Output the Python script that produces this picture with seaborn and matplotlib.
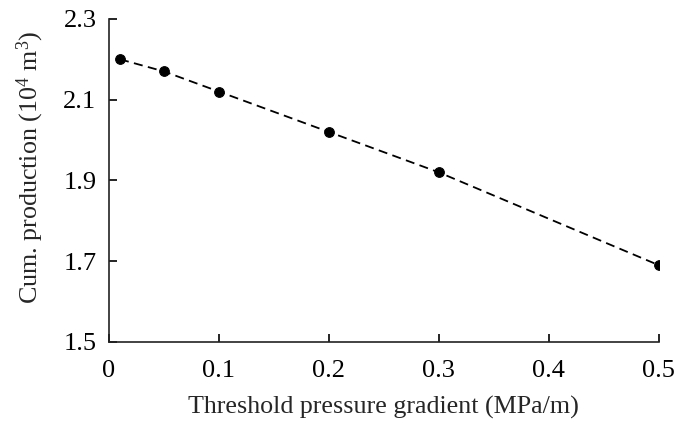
import pandas as pd
import matplotlib
matplotlib.use('Agg')
import matplotlib.pyplot as plt
import seaborn as sns

# Values
gradient = [0.01, 0.05, 0.1, 0.2, 0.3, 0.5]
cum_prod = [2.20, 2.17, 2.12, 2.02, 1.92, 1.69]
x_ticks = [0, 0.1, 0.2, 0.3, 0.4, 0.5]
x_labels = ['0', '0.1', '0.2', '0.3', '0.4', '0.5']
y_ticks = [1.5, 1.7, 1.9, 2.1, 2.3]

df = pd.DataFrame({'gradient': gradient, 'cum_prod': cum_prod})

sns.set_style('ticks')
plt.rcParams['font.family'] = ['Liberation Serif', 'DejaVu Serif']
plt.rcParams['mathtext.fontset'] = 'custom'
plt.rcParams['mathtext.rm'] = 'Liberation Serif'
plt.rcParams['mathtext.it'] = 'Liberation Serif:italic'

fig = plt.figure(figsize=(6.77, 4.21), dpi=100)
ax = fig.add_axes([0.161, 0.188, 0.812, 0.767])

sns.lineplot(x='gradient', y='cum_prod', data=df, ax=ax, color='black',
             linestyle=(0, (5, 3)), linewidth=1.3, marker='o', markersize=7,
             markeredgecolor='black')

ax.set_xlim(0, 0.5)
ax.set_ylim(1.5, 2.3)
ax.set_xticks(x_ticks)
ax.set_xticklabels(x_labels)
ax.set_yticks(y_ticks)
ax.tick_params(direction='in', length=6, width=1.2, labelsize=19, colors='black')
ax.tick_params(axis='x', pad=13)
ax.tick_params(axis='y', pad=9)
for side in ['left', 'bottom']:
    ax.spines[side].set_linewidth(1.2)
    ax.spines[side].set_color('#222222')
sns.despine(ax=ax)

ax.set_xlabel('Threshold pressure gradient (MPa/m)', fontsize=18.7, labelpad=10)
ax.set_ylabel('Cum. production (10$^4$ m$^3$)', fontsize=18.7)
ax.yaxis.set_label_coords(-0.115, 0.54)

fig.savefig('out.png', dpi=100)
